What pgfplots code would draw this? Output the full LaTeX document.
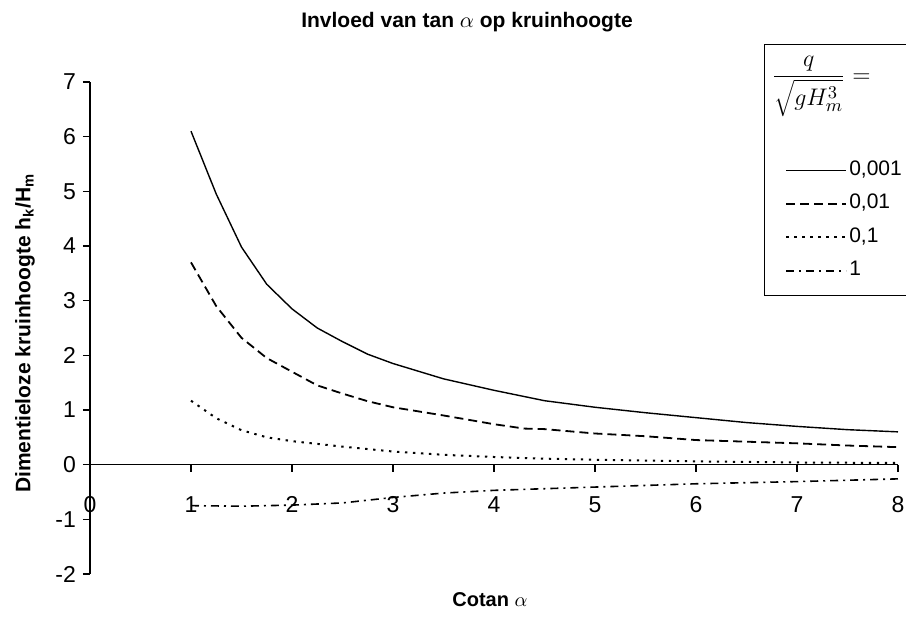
\documentclass[border=0pt]{standalone}
\usepackage{fontspec}
\setmainfont{Liberation Sans}
\usepackage{pgfplots}
\pgfplotsset{compat=1.18}

\begin{document}
\begin{tikzpicture}
\begin{axis}[
  scale only axis,
  width=404pt, height=246pt,
  xmin=0, xmax=8, ymin=-2, ymax=7,
  axis x line=middle, axis y line=left,
  axis line style={-, line width=0.6pt},
  hide obscured x ticks=false, hide obscured y ticks=false,
  xtick={0,...,8}, ytick={-2,...,7},
  tick align=outside, major tick length=3.5pt,
  tick style={line width=0.6pt, black},
  /pgf/number format/assume math mode=true,
  ticklabel style={font=\fontsize{11.5}{13}\selectfont},
  xticklabel style={yshift=-9pt},
  clip=false,
  title={Invloed van tan $\alpha$ op kruinhoogte},
  title style={at={(axis description cs:0.4666,1)}, anchor=center, yshift=24pt,
    font=\bfseries\fontsize{10.5}{12}\selectfont},
  xlabel={Cotan $\alpha$},
  xlabel style={at={(axis description cs:0.495,0)}, anchor=center, yshift=-13pt,
    font=\bfseries\fontsize{10}{12}\selectfont},
  ylabel={Dimentieloze kruinhoogte h\textsubscript{k}/H\textsubscript{m}},
  ylabel style={at={(axis description cs:0,0.49)}, anchor=center, yshift=32.5pt,
    font=\bfseries\fontsize{10.5}{12}\selectfont},
  legend style={at={(axis cs:6.88,5.61)}, anchor=north west, draw=none, fill=none,
    inner sep=0pt, row sep=4.75pt, font=\fontsize{10.5}{12}\selectfont,
    nodes={text height=7.5pt, text depth=2.5pt, inner sep=1pt}},
  legend cell align=left,
  legend image code/.code={\draw[#1] (0pt,0pt) -- (30pt,0pt);},
]

% q/sqrt(gHm^3) = 0,001
\addplot[black, line width=0.7pt] coordinates {
  (1,6.1) (1.25,4.95) (1.5,3.98) (1.75,3.3) (2,2.85) (2.25,2.5) (2.5,2.25)
  (2.75,2.02) (3,1.85) (3.5,1.57) (4,1.36) (4.5,1.17) (5,1.05) (5.5,0.95)
  (6,0.86) (6.5,0.77) (7,0.7) (7.5,0.64) (8,0.6)
};
\addlegendentry{0,001}

% 0,01
\addplot[black, line width=0.9pt, dash pattern=on 4.5pt off 2.5pt] coordinates {
  (1,3.7) (1.25,2.9) (1.5,2.32) (1.75,1.95) (2,1.7) (2.25,1.45) (2.5,1.3)
  (2.75,1.16) (3,1.05) (3.5,0.9) (4,0.74) (4.3,0.66) (4.5,0.65) (5,0.57)
  (5.5,0.52) (6,0.45) (6.5,0.42) (7,0.39) (7.5,0.35) (8,0.32)
};
\addlegendentry{0,01}

% 0,1
\addplot[black, line width=1pt, dash pattern=on 1.2pt off 2.8pt] coordinates {
  (1,1.17) (1.25,0.85) (1.5,0.63) (1.75,0.5) (2,0.43) (2.5,0.33) (3,0.24)
  (3.5,0.18) (4,0.14) (4.5,0.11) (5,0.09) (6,0.06) (7,0.04) (8,0.03)
};
\addlegendentry{0,1}

% 1
\addplot[black, line width=0.8pt, dash pattern=on 4pt off 2.5pt on 1pt off 2.5pt] coordinates {
  (1,-0.75) (1.5,-0.76) (2,-0.74) (2.5,-0.7) (3,-0.6) (3.5,-0.52) (4,-0.47)
  (4.5,-0.44) (5,-0.41) (6,-0.35) (7,-0.31) (8,-0.26)
};
\addlegendentry{1}

% legend frame, its right side runs off the picture
\draw[line width=0.6pt] (axis cs:8.3,7.68) -- (axis cs:6.68,7.68) -- (axis cs:6.68,3.09) -- (axis cs:8.3,3.09);
\node[font=\fontsize{13}{15}\selectfont] at (axis cs:7.24,6.92) {$\displaystyle\frac{q}{\sqrt{gH_{m}^{3}}}=$};
\end{axis}
\pgfresetboundingbox
\useasboundingbox (-45pt,-22.5pt) rectangle (408pt,287pt);
\end{tikzpicture}
\end{document}
